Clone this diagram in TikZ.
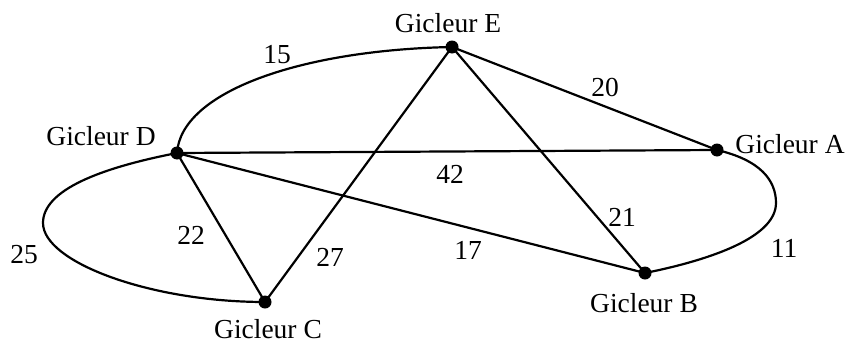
\documentclass[tikz,border=0pt]{standalone}
\usepackage{fontspec}
\setmainfont{Liberation Serif}
\begin{document}
\begin{tikzpicture}[x=1pt,y=-1pt,
  edge/.style={line width=2.2pt, line join=round},
  dot/.style={circle, fill=black, inner sep=0pt, minimum size=13pt},
  lbl/.style={anchor=base, inner sep=0pt, font=\fontsize{27.5}{30}\selectfont}]
\useasboundingbox (0,0) rectangle (849,343);
% vertices
\node[dot] (D) at (177,153) {};
\node[dot] (E) at (452,47) {};
\node[dot] (A) at (717,150) {};
\node[dot] (B) at (645,273) {};
\node[dot] (C) at (265,302) {};
% straight edges
\draw[edge] (D.center) -- (A.center);
\draw[edge] (D.center) -- (B.center);
\draw[edge] (D.center) -- (C.center);
\draw[edge] (E.center) -- (A.center);
\draw[edge] (E.center) -- (B.center);
\draw[edge] (E.center) -- (C.center);
% curved edges
\coordinate (Lm) at (43,223);
\coordinate (Rm) at (776,203);
\draw[edge] (D.center) .. controls (181,92) and (300,50) .. (E.center);
\draw[edge] (D.center) .. controls (100,168) and (43,190) .. (Lm)
   .. controls (43,262) and (150,302) .. (C.center);
\draw[edge] (A.center) .. controls (760,160) and (776,180) .. (Rm)
   .. controls (776,240) and (700,262) .. (B.center);
% vertex labels
\node[lbl] (tE) at (448,32) {Gicleur E};
\node[lbl] (tD) at (101,145) {Gicleur D};
\node[lbl] (tA) at (790,153) {Gicleur A};
\node[lbl] (tB) at (644,312) {Gicleur B};
\node[lbl] (tC) at (268,338.5) {Gicleur C};
% weights
\node[lbl] (w15) at (277,63) {15};
\node[lbl] (w20) at (605,96) {20};
\node[lbl] (w42) at (450,183) {42};
\node[lbl] (w21) at (622,226) {21};
\node[lbl] (w22) at (191,244) {22};
\node[lbl] (w25) at (24,263) {25};
\node[lbl] (w27) at (330,266) {27};
\node[lbl] (w17) at (468,259) {17};
\node[lbl] (w11) at (784,257) {11};
\end{tikzpicture}
\end{document}
